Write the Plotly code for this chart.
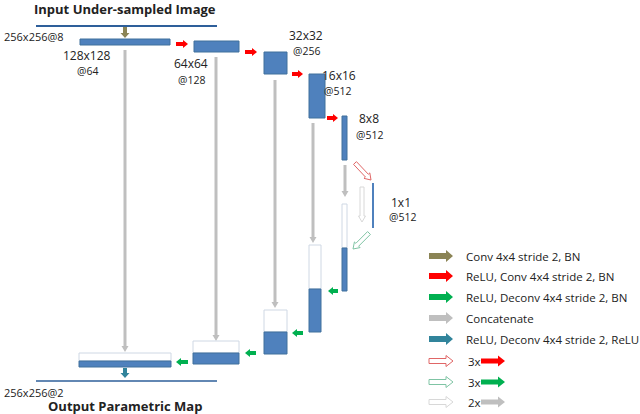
import plotly.graph_objects as go
import math

# encoder feature blocks (x0, x1, y0, y1) in diagram units
enc_blocks = [(80, 170, 39, 45), (194, 239, 41, 52), (264, 287, 52, 74), (309, 325, 74, 118), (342, 347, 116, 160)]
enc_labels = [("128x128", 87, 55), ("@64", 87, 71), ("64x64", 191, 63), ("@128", 191, 80),
              ("32x32", 306, 35), ("@256", 306, 51), ("16x16", 339, 75), ("@512", 337, 91),
              ("8x8", 369, 118), ("@512", 369, 135), ("1x1", 401, 202), ("@512", 402, 217)]
# decoder blocks (x0, x1, top, blue_top, bottom)
dec_blocks = [(342, 347, 204, 248, 291), (309, 321, 245, 289, 332), (264, 287, 310, 332, 354),
              (193, 239, 341, 353, 364), (79, 171, 353, 361, 367)]
skip_x = [125, 216, 275, 313, 345]
skip_y = [(50, 352), (57, 341), (80, 308), (123, 243), (165, 197)]
legend_text = ["Conv 4x4 stride 2, BN", "ReLU, Conv 4x4 stride 2, BN", "ReLU, Deconv 4x4 stride 2, BN",
               "Concatenate", "ReLU, Deconv 4x4 stride 2, ReLU", "3x", "3x", "2x"]
legend_y = [256, 276, 297, 318, 339, 361, 382, 402]

OLIVE, RED, GREEN, GRAY, TEAL, BLUE = "#8b8455", "#ff0000", "#00b050", "#bfbfbf", "#31849b", "#4f81bd"
shapes, ann = [], []

def arrow(x0, y0, x1, y1, w, hw, hl, fill, line=None):
    dx, dy = x1 - x0, y1 - y0
    L = math.hypot(dx, dy); ux, uy = dx / L, dy / L; px, py = -uy, ux
    bx, by = x1 - ux * hl, y1 - uy * hl
    pts = [(x0 + px * w / 2, y0 + py * w / 2), (bx + px * w / 2, by + py * w / 2), (bx + px * hw / 2, by + py * hw / 2),
           (x1, y1), (bx - px * hw / 2, by - py * hw / 2), (bx - px * w / 2, by - py * w / 2), (x0 - px * w / 2, y0 - py * w / 2)]
    p = "M " + " L ".join(f"{a:.2f},{b:.2f}" for a, b in pts) + " Z"
    shapes.append(dict(type="path", path=p, fillcolor=fill if line is None else "white",
                       line=dict(color=line if line else fill, width=1 if line else 0)))

def rect(x0, x1, y0, y1, fill, line=None):
    shapes.append(dict(type="rect", x0=x0, x1=x1, y0=y0, y1=y1, fillcolor=fill,
                       line=dict(color=line or fill, width=1 if line else 0)))

def text(s, x, y, size=11.5, anchor="center", bold=False):
    ann.append(dict(text=f"<b>{s}</b>" if bold else s, x=x, y=y, xanchor=anchor, yanchor="middle",
                    showarrow=False, font=dict(size=size, color="#222", family="Open Sans")))

# input / output lines
shapes.append(dict(type="line", x0=36, x1=217, y0=26, y1=26, line=dict(color="#2e5f9a", width=2)))
shapes.append(dict(type="line", x0=36, x1=217, y0=381, y1=381, line=dict(color="#2e5f9a", width=1.5)))
arrow(125, 27, 125, 38, 4, 9, 5, OLIVE)
arrow(125, 368, 125, 378, 4, 9, 5, TEAL)
text("Input Under-sampled Image", 125, 9, 13, bold=True)
text("Output Parametric Map", 125, 406, 13, bold=True)
text("256x256@8", 2, 36, 11, "left")
text("256x256@2", 2, 392, 11, "left")

# skip connections
for x, (ya, yb) in zip(skip_x, skip_y):
    arrow(x, ya, x, yb, 3, 7, 6, GRAY)
arrow(362, 187, 362, 222, 4, 7, 6, "white", "#d8d8d8")

for b in enc_blocks:
    rect(b[0], b[1], b[2], b[3], BLUE, "#41719c")
rect(372, 374, 183, 228, BLUE)
for x0, x1, t, bt, bb in dec_blocks:
    rect(x0, x1, t, bt, "white", "#cfd8e4")
    rect(x0, x1, bt, bb, BLUE, "#41719c")
for s, x, y in enc_labels:
    text(s, x, y, 10.5 if s.startswith("@") else 12)

# red encoder arrows
for (xa, xb, y) in [(176, 188, 44), (245, 257, 52), (292, 303, 74), (327, 338, 118)]:
    arrow(xa, y, xb, y, 4, 8, 5, RED)
arrow(355, 163, 371, 180, 4, 8, 6, "white", "#e06666")
# green decoder arrows
for (xa, xb, y) in [(338, 328, 291), (303, 292, 333), (256, 245, 353), (188, 176, 362)]:
    arrow(xa, y, xb, y, 4, 8, 5, GREEN)
arrow(369, 233, 353, 249, 4, 8, 6, "white", "#7fc4a4")

# legend
lcol = [OLIVE, RED, GREEN, GRAY, TEAL]
for i, (s, y) in enumerate(zip(legend_text, legend_y)):
    if i < 5:
        arrow(429, y, 453, y, 6, 12, 7, lcol[i])
        text(s, 464, y, 11.5, "left")
    else:
        oc = ["#e06666", "#7fc4a4", "#d8d8d8"][i - 5]
        arrow(429, y, 453, y, 5, 11, 7, "white", oc)
        text(s, 466, y, 11.5, "left")
        arrow(481, y, 505, y, 5, 11, 7, [RED, GREEN, GRAY][i - 5])

fig = go.Figure()
fig.update_layout(width=640, height=414, margin=dict(l=0, r=0, t=0, b=0), plot_bgcolor="white",
                  paper_bgcolor="white", shapes=shapes, annotations=ann, showlegend=False,
                  xaxis=dict(range=[0, 640], visible=False, fixedrange=True),
                  yaxis=dict(range=[414, 0], visible=False, fixedrange=True))
fig.write_html("out.html", config={"displayModeBar": False},
               post_script="document.body.style.margin='0';document.body.style.overflow='hidden';")
